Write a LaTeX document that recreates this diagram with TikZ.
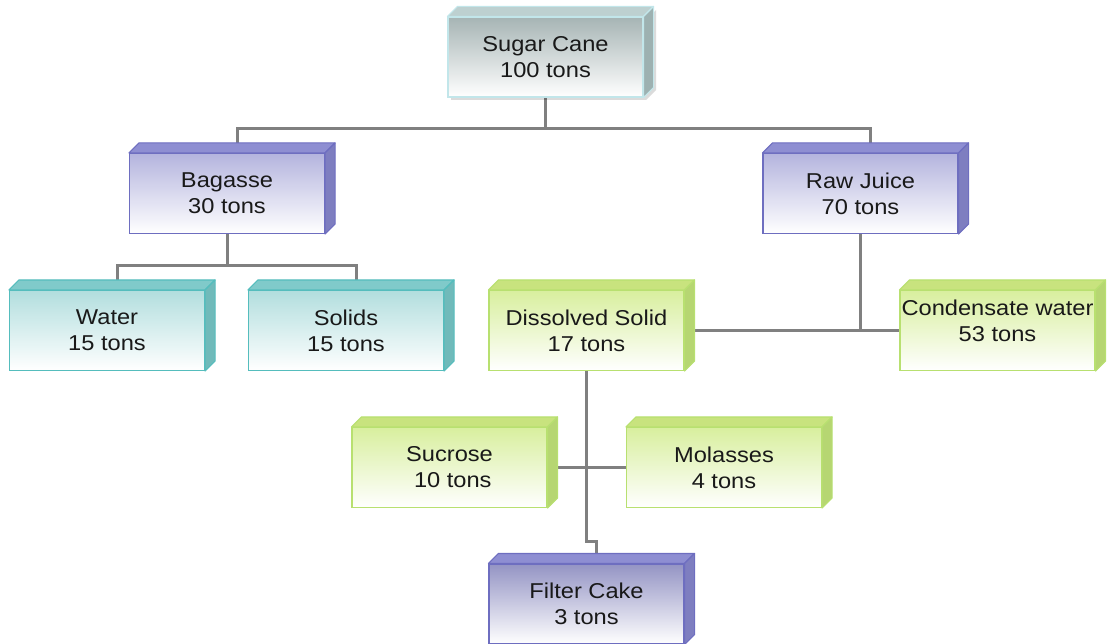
\documentclass[tikz,border=0pt]{standalone}
\usepackage{fontspec}
\setmainfont[FakeStretch=1.1]{Liberation Sans}
\usetikzlibrary{calc}
\pgfdeclarelayer{back}
\pgfsetlayers{back,main}

% colour schemes: front (top of gradient), edge, top slab, side face
\definecolor{grayfront}{HTML}{A6B4B4}
\definecolor{grayedge}{HTML}{C2E6EA}
\definecolor{grayslab}{HTML}{BDD0D0}
\definecolor{grayside}{HTML}{9DB1B1}
\definecolor{purpfront}{HTML}{B4B4DE}
\definecolor{purpdark}{HTML}{9494C4}
\definecolor{purpedge}{HTML}{6E6EC0}
\definecolor{purpslab}{HTML}{8E8ED2}
\definecolor{purpside}{HTML}{7E7EC0}
\definecolor{tealfront}{HTML}{B2DEDE}
\definecolor{tealedge}{HTML}{55BDBD}
\definecolor{tealslab}{HTML}{80CACA}
\definecolor{tealside}{HTML}{70BABA}
\definecolor{grnfront}{HTML}{D8EF9E}
\definecolor{grnedge}{HTML}{B8E070}
\definecolor{grnslab}{HTML}{C8E37E}
\definecolor{grnside}{HTML}{B6D672}
\definecolor{linkgray}{HTML}{808080}

\tikzset{
  box/.style={minimum width=195pt, minimum height=80pt, inner sep=0pt,
    align=center, text=black!90, font=\fontsize{21.5}{26}\selectfont,
    line width=1.1pt, bottom color=white},
  graybox/.style={box, top color=grayfront, draw=grayedge},
  purpbox/.style={box, top color=purpfront, draw=purpedge},
  darkpurpbox/.style={box, top color=purpdark, draw=purpedge},
  tealbox/.style={box, top color=tealfront, draw=tealedge},
  grnbox/.style={box, top color=grnfront, draw=grnedge},
  link/.style={draw=linkgray, line width=3pt},
  txt/.style={align=center, text=black!90, font=\fontsize{21.5}{26}\selectfont, inner sep=0pt}
}

% top slab and side face of a box node: #1 name, #2 slab, #3 side, #4 edge
\newcommand\boxfaces[4]{%
  \filldraw[fill=#2, draw=#4, line width=1.1pt, line join=round]
    (#1.north west) -- ++(10,-10) -- ($(#1.north east)+(10,-10)$) -- (#1.north east) -- cycle;
  \filldraw[fill=#3, draw=#4, line width=1.1pt, line join=round]
    (#1.north east) -- ++(10,-10) -- ($(#1.south east)+(10,-10)$) -- (#1.south east) -- cycle;
}

\begin{document}
\begin{tikzpicture}[x=1pt, y=-1pt]
\useasboundingbox (0,0) rectangle (1107,644);

% soft shadow under the root box
\fill[black, opacity=0.14] (451,20) -- (451,100) -- (646,100) -- (656,90) -- (656,10) -- (646,20) -- cycle;

\node[graybox] (cane) at (545.5,57) {Sugar Cane\\100 tons};
\boxfaces{cane}{grayslab}{grayside}{grayedge}

\node[purpbox] (bag) at (227,193.5) {Bagasse\\30 tons};
\boxfaces{bag}{purpslab}{purpside}{purpedge}
\node[purpbox] (raw) at (860.5,193.5) {Raw Juice\\70 tons};
\boxfaces{raw}{purpslab}{purpside}{purpedge}

\node[tealbox] (water) at (107,330.5) {Water\\15 tons};
\boxfaces{water}{tealslab}{tealside}{tealedge}
\node[tealbox] (solids) at (346,330.5) {Solids\\15 tons};
\boxfaces{solids}{tealslab}{tealside}{tealedge}

\node[grnbox] (diss) at (586.5,330.5) {Dissolved Solid\\17 tons};
\boxfaces{diss}{grnslab}{grnside}{grnedge}
\node[grnbox] (cond) at (997.5,330.5) {};
\boxfaces{cond}{grnslab}{grnside}{grnedge}
\node[txt] (condtext) at (997.5,321) {Condensate water\\53 tons};

\node[grnbox] (suc) at (449.5,467.5) {Sucrose\\\ 10 tons};
\boxfaces{suc}{grnslab}{grnside}{grnedge}
\node[grnbox] (mol) at (724,467.5) {Molasses\\4 tons};
\boxfaces{mol}{grnslab}{grnside}{grnedge}

\node[darkpurpbox] (filt) at (586.5,604) {Filter Cake\\3 tons};
\boxfaces{filt}{purpslab}{purpside}{purpedge}

% attachment points on the top slabs and side faces
\coordinate (bagtop) at ($(bag.north)+(10,-10)$);
\coordinate (rawtop) at ($(raw.north)+(10,-10)$);
\coordinate (watertop) at ($(water.north)+(10,-10)$);
\coordinate (solidstop) at ($(solids.north)+(10,-10)$);
\coordinate (filttop) at ($(filt.north)+(10,-10)$);
\coordinate (dissside) at ($(diss.east)+(10,0)$);
\coordinate (sucside) at ($(suc.east)+(10,0)$);

\begin{pgfonlayer}{back}
  \draw[link] (cane.south) -- ++(0,31) coordinate (j1);
  \draw[link] (j1) -| (bagtop);
  \draw[link] (j1) -| (rawtop);
  \draw[link] (bag.south) -- ++(0,31) coordinate (j2);
  \draw[link] (j2) -| (watertop);
  \draw[link] (j2) -| (solidstop);
  \draw[link] (raw.south) -- (raw.south |- cond.west);
  \draw[link] (dissside) -- (cond.west);
  \draw[link] (diss.south) -- ++(0,170) -| (filttop);
  \draw[link] (sucside) -- (mol.west);
\end{pgfonlayer}
\end{tikzpicture}
\end{document}
